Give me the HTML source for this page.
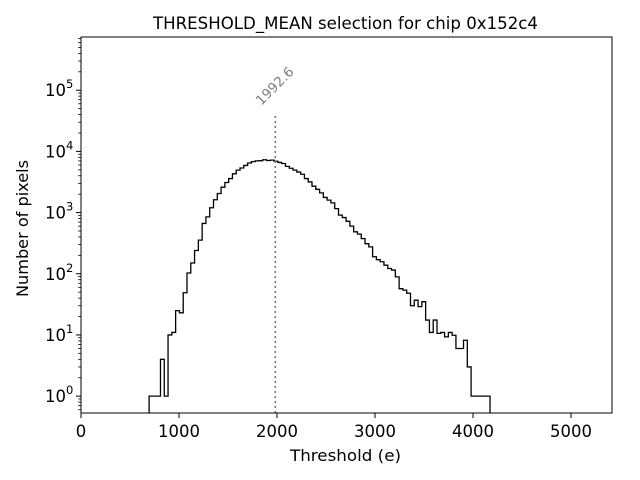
<!DOCTYPE html>
<html><head><meta charset="utf-8"><style>
html,body{margin:0;padding:0;background:#fff;}
svg{display:block;font-family:"DejaVu Sans","Liberation Sans",sans-serif;}
</style></head><body>
<svg id="chart" width="640" height="480" viewBox="0 0 640 480">
<rect width="640" height="480" fill="#fff"/>
<g id="plot"></g>
</svg>
<script>
const binStart = 695;
const binWidth = 38.65;
const counts = [1,1,1,4,1,10,11,25,23,49,103,150,240,355,665,850,1200,1620,2050,2600,3100,3600,4300,4950,5350,5900,6470,6800,7000,7050,7300,7100,7200,6900,6600,6340,5700,5300,4950,4600,4230,3600,3170,2700,2400,2100,1770,1600,1440,1160,910,830,720,600,485,445,375,310,275,190,170,157,138,122,115,89,57,54,48,30,37,29,35,17.5,11,17.5,10.6,11,9.3,11,9.9,6,6,8.2,3,1,1,1,1,1];
const xTicks = [0,1000,2000,3000,4000,5000];
const yExps = [0,1,2,3,4,5];
const markerValue = 1992.6;
const markerLabel = "1992.6";

const L=81,R=612,T=37,B=413;
const xMax=5418, yMinLog=Math.log10(0.53), yMaxLog=5.87;
const xs=v=>L+v/xMax*(R-L);
const ys=v=>B-(Math.log10(v)-yMinLog)/(yMaxLog-yMinLog)*(B-T);
const NS="http://www.w3.org/2000/svg";
const g=document.getElementById('plot');
function mk(tag,attrs,parent){const e=document.createElementNS(NS,tag);for(const k in attrs)e.setAttribute(k,attrs[k]);(parent||g).appendChild(e);return e;}

let d="M"+xs(binStart)+","+B;
counts.forEach((c,i)=>{const x0=xs(binStart+i*binWidth),x1=xs(binStart+(i+1)*binWidth);d+=" L"+x0+","+ys(c)+" L"+x1+","+ys(c);});
d+=" L"+xs(binStart+counts.length*binWidth)+","+B;
const hist=mk('path',{d:d,fill:"none",stroke:"#000","stroke-width":1.3});



const mx=xs(markerValue)-1;
const ml=mk('line',{x1:mx,x2:mx,y1:B,y2:113,stroke:"#777","stroke-width":1.6,"stroke-dasharray":"2,3"});


const mt=mk('text',{x:mx-14,y:106,fill:"#808080","font-size":"13.5","transform":"rotate(-45 "+(mx-14)+" 106)"});
mt.textContent=markerLabel;



const fr=mk('rect',{x:L,y:T,width:R-L,height:B-T,fill:"none",stroke:"#000","stroke-width":1});



xTicks.forEach(v=>{const x=xs(v);
 mk('line',{x1:x,x2:x,y1:B,y2:B+5,stroke:"#000","stroke-width":1});
 const t=mk('text',{x:x,y:B+24,"text-anchor":"middle","font-size":"16.5"});t.textContent=v;
 
 
});
yExps.forEach(e=>{const y=ys(Math.pow(10,e));
 mk('line',{x1:L,x2:L-5,y1:y,y2:y,stroke:"#000","stroke-width":1});
 const t=mk('text',{x:L-15,y:y+6,"text-anchor":"end","font-size":"16.5"});
 t.textContent='10';
 
 
 const s=mk('text',{x:L-15,y:y-2,"text-anchor":"start","font-size":"11.5"});
 s.textContent=e;
 
 
});
for(let e=-1;e<=5;e++){for(let m=2;m<=9;m++){const v=m*Math.pow(10,e);if(v<0.53||Math.log10(v)>yMaxLog)continue;const y=ys(v);
 mk('line',{x1:L,x2:L-2.8,y1:y,y2:y,stroke:"#000","stroke-width":0.8});}}

const title=mk('text',{x:153,y:29,"font-size":"17","textLength":"385","lengthAdjust":"spacingAndGlyphs"});
title.textContent="THRESHOLD_MEAN selection for chip 0x152c4";


const xl=mk('text',{x:290,y:461,"font-size":"16","textLength":"111","lengthAdjust":"spacingAndGlyphs"});
xl.textContent="Threshold (e)";


const yl=mk('text',{x:28,y:297,"font-size":"16","textLength":"137","lengthAdjust":"spacingAndGlyphs","transform":"rotate(-90 28 297)"});
yl.textContent="Number of pixels";


</script>
</body></html>
